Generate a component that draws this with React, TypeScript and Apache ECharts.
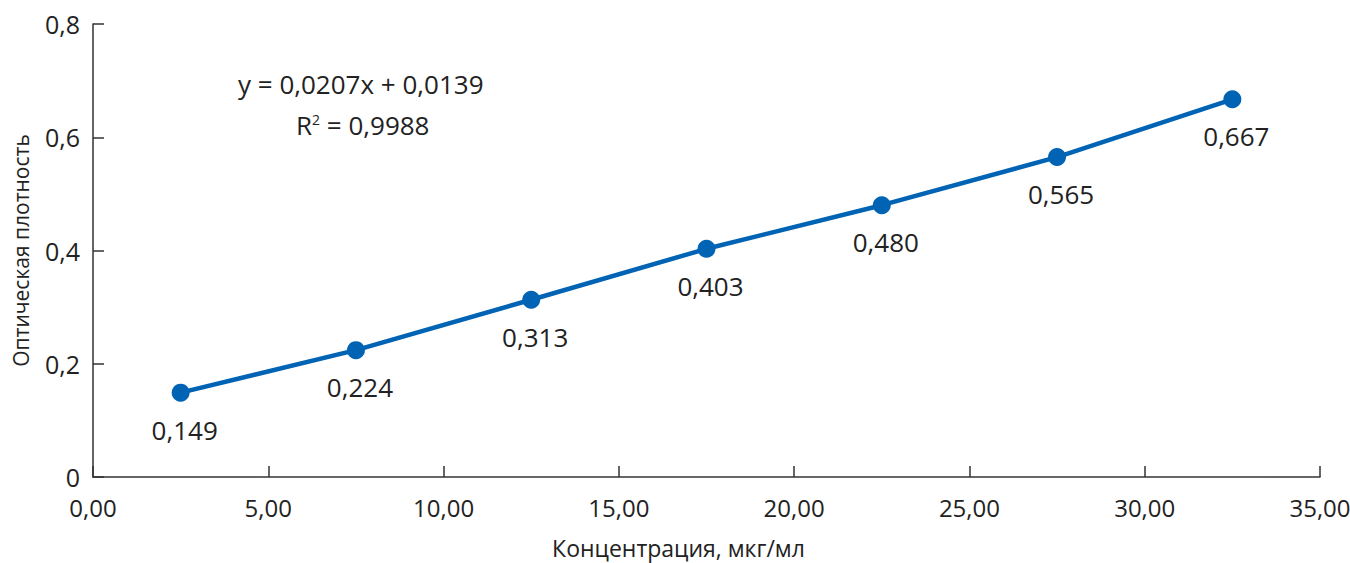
import React, { useEffect, useRef } from "react";
import * as echarts from "echarts";

const concentrations = [2.5, 7.5, 12.5, 17.5, 22.5, 27.5, 32.5];
const opticalDensity = [0.149, 0.224, 0.313, 0.403, 0.48, 0.565, 0.667];
const equationText = "y = 0,0207x + 0,0139";
const r2Text = "0,9988";
const xAxisName = "Концентрация, мкг/мл";
const yAxisName = "Оптическая плотность";

const FONT = "'Open Sans', 'Noto Sans', sans-serif";

export default function App() {
  const ref = useRef<HTMLDivElement>(null);
  useEffect(() => {
    if (!ref.current) return;
    const chart = echarts.init(ref.current, undefined, { renderer: "svg" });
    chart.setOption({
      animation: false,
      textStyle: { fontFamily: FONT },
      grid: { left: 93, right: 30, top: 24, bottom: 86, containLabel: false, outerBoundsMode: "none" },
      xAxis: {
        type: "value",
        min: 0,
        max: 35,
        interval: 5,
        name: xAxisName,
        nameLocation: "middle",
        nameGap: 59,
        nameTextStyle: { fontSize: 23, color: "#222", fontFamily: FONT, padding: [0, 56, 0, 0] },
        axisLine: { show: true, lineStyle: { color: "#333", width: 1.5 } },
        axisTick: { show: true, inside: true, length: 11, lineStyle: { color: "#333", width: 1.5 } },
        splitLine: { show: false },
        axisLabel: {
          fontSize: 24,
          color: "#222",
          margin: 18,
          fontFamily: FONT,
          formatter: (v: number) => v.toFixed(2).replace(".", ","),
        },
      },
      yAxis: {
        type: "value",
        min: 0,
        max: 0.8,
        interval: 0.2,
        name: yAxisName,
        nameLocation: "middle",
        nameGap: 62,
        nameTextStyle: { fontSize: 21, color: "#222", fontFamily: FONT },
        axisLine: { show: true, lineStyle: { color: "#333", width: 1.5 } },
        axisTick: { show: true, inside: true, length: 11, lineStyle: { color: "#333", width: 1.5 } },
        splitLine: { show: false },
        axisLabel: {
          fontSize: 25,
          color: "#222",
          margin: 13,
          fontFamily: FONT,
          formatter: (v: number) => (v === 0 ? "0" : v.toFixed(1).replace(".", ",")),
        },
      },
      graphic: [
        {
          type: "text",
          left: 238,
          top: 71,
          style: { text: equationText, fontSize: 26, fill: "#222", fontFamily: FONT },
        },
        {
          type: "text",
          left: 296,
          top: 112,
          style: {
            text: "{a|R}{s|2}{a| = " + r2Text + "}",
            fill: "#222",
            fontFamily: FONT,
            rich: {
              a: { fontSize: 26, fill: "#222", fontFamily: FONT, verticalAlign: "bottom" },
              s: { fontSize: 14, fill: "#222", fontFamily: FONT, verticalAlign: "top", padding: [0, 0, 12, 0] },
            },
          },
        },
      ],
      series: [
        {
          type: "line",
          data: concentrations.map((x, i) => [x, opticalDensity[i]]),
          symbol: "circle",
          symbolSize: 18,
          lineStyle: { color: "#0063b4", width: 4.5 },
          itemStyle: { color: "#0063b4" },
          label: {
            show: true,
            position: "bottom",
            distance: 15,
            offset: [4, 0],
            fontSize: 26,
            color: "#222",
            fontFamily: FONT,
            formatter: (p: any) => p.value[1].toFixed(3).replace(".", ","),
          },
        },
      ],
    });
    return () => chart.dispose();
  }, []);
  return (
    <div
      ref={ref}
      style={{ position: "absolute", left: 0, top: 0, width: 1350, height: 563, background: "#fff" }}
    />
  );
}
